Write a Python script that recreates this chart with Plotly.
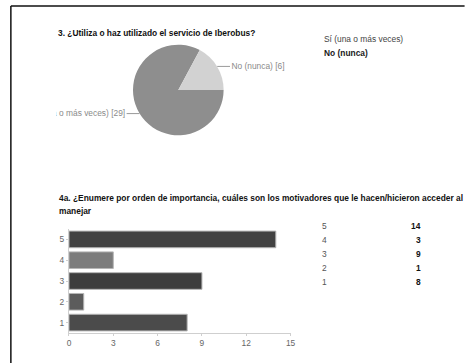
import math
import plotly.graph_objects as go

W, H = 465, 363

# pie: question 3
pie_labels = ["Sí (una o más veces)", "No (nunca)"]
pie_values = [29, 6]
pie_colors = ["#8e8e8e", "#d2d2d2"]

# bars: question 4a
bar_cats = ["5", "4", "3", "2", "1"]
bar_vals = [14, 3, 9, 1, 8]
bar_colors = ["#424242", "#7c7c7c", "#3d3d3d", "#5c5c5c", "#4b4b4b"]
x_ticks = [0, 3, 6, 9, 12, 15]

title3 = "3. ¿Utiliza o haz utilizado el servicio de Iberobus?"
title4 = ("4a. ¿Enumere por orden de importancia, cuáles son los motivadores "
          "que le hacen/hicieron acceder al servicio de Iberobus?")
title4_line2 = "manejar"

FONT = "Liberation Sans, Arial, sans-serif"
FS = 8.4


def px(x):
    return x / W


def py(y):
    return 1 - y / H


# pie box in pixels
pie_l, pie_r, pie_t, pie_b = 133, 225, 44, 136
cx, cy = (pie_l + pie_r) / 2, (pie_t + pie_b) / 2
rad = (pie_r - pie_l) / 2

fig = go.Figure()

fig.add_trace(go.Pie(
    labels=pie_labels, values=pie_values, sort=False,
    direction="clockwise", rotation=90,
    marker=dict(colors=pie_colors, line=dict(width=0)),
    textinfo="none", hoverinfo="label+value", showlegend=False,
    domain=dict(x=[px(pie_l), px(pie_r)], y=[py(pie_b), py(pie_t)]),
))

fig.add_trace(go.Bar(
    y=bar_cats, x=bar_vals, orientation="h",
    marker=dict(color=bar_colors, line=dict(color="#b5b5b5", width=1)),
    showlegend=False, xaxis="x", yaxis="y",
))

# pie leader lines + labels, on a pixel overlay axis clipped at the chart's left edge
total = sum(pie_values)
start = 0.0
for lab, val in zip(pie_labels, pie_values):
    sweep = 360 * val / total
    mid = math.radians(start - sweep / 2)
    start -= sweep
    ex, ey = cx + rad * math.cos(mid), cy - rad * math.sin(mid)
    side = 1 if math.cos(mid) > 0 else -1
    tx = ex + side * 13
    fig.add_trace(go.Scatter(
        x=[ex, tx], y=[ey, ey], mode="lines",
        line=dict(color="#9a9a9a", width=1),
        xaxis="x2", yaxis="y2", showlegend=False, hoverinfo="skip",
    ))
    fig.add_trace(go.Scatter(
        x=[tx + side * 1.5], y=[ey], mode="text",
        text=[f"{lab} [{val}]"],
        textposition="middle right" if side > 0 else "middle left",
        textfont=dict(family=FONT, size=FS, color="#8a8a8a"),
        cliponaxis=True,
        xaxis="x2", yaxis="y2", showlegend=False, hoverinfo="skip",
    ))

ann = []
ann.append(dict(x=px(55), y=py(33), xref="paper", yref="paper", text=f"<b>{title3}</b>",
                showarrow=False, xanchor="left", yanchor="middle",
                font=dict(family=FONT, size=FS, color="#111")))
ann.append(dict(x=px(56), y=py(198), xref="paper", yref="paper", text=f"<b>{title4}</b>",
                showarrow=False, xanchor="left", yanchor="middle",
                font=dict(family=FONT, size=FS, color="#111")))
ann.append(dict(x=px(56), y=py(211), xref="paper", yref="paper", text=f"<b>{title4_line2}</b>",
                showarrow=False, xanchor="left", yanchor="middle",
                font=dict(family=FONT, size=FS, color="#111")))

# pie legend (text only)
leg_colors = ["#444", "#1a1a1a"]
for i, lab in enumerate(pie_labels):
    t = lab if i == 0 else f"<b>{lab}</b>"
    ann.append(dict(x=px(325), y=py(39 + 14 * i), xref="paper", yref="paper", text=t,
                    showarrow=False, xanchor="left", yanchor="middle",
                    font=dict(family=FONT, size=FS, color=leg_colors[i])))

# bar table
for i, (c, v) in enumerate(zip(bar_cats, bar_vals)):
    yy = py(226 + 14 * i)
    ann.append(dict(x=px(327), y=yy, xref="paper", yref="paper", text=c,
                    showarrow=False, xanchor="center", yanchor="middle",
                    font=dict(family=FONT, size=FS, color="#555")))
    ann.append(dict(x=px(427), y=yy, xref="paper", yref="paper", text=f"<b>{v}</b>",
                    showarrow=False, xanchor="right", yanchor="middle",
                    font=dict(family=FONT, size=FS, color="#111")))

# scanned page frame
shapes = [
    dict(type="line", xref="paper", yref="paper", x0=px(9), x1=1.01, y0=py(6), y1=py(6),
         line=dict(color="#111", width=1.5)),
    dict(type="line", xref="paper", yref="paper", x0=px(9), x1=px(9), y0=py(6), y1=-0.01,
         line=dict(color="#111", width=1.5)),
]

fig.update_layout(
    width=W, height=H,
    margin=dict(l=0, r=0, t=0, b=0),
    paper_bgcolor="white", plot_bgcolor="rgba(0,0,0,0)",
    bargap=0.2,
    xaxis=dict(domain=[px(68), px(293)], range=[0, 15], tickvals=x_ticks,
               showgrid=False, zeroline=False, showline=True, linecolor="#cfcfcf",
               ticks="outside", ticklen=2, tickcolor="#cfcfcf",
               tickfont=dict(family=FONT, size=FS, color="#666"), fixedrange=True),
    yaxis=dict(domain=[py(333), py(229)], type="category",
               categoryorder="array", categoryarray=bar_cats[::-1],
               showgrid=False, zeroline=False, showline=True, linecolor="#cfcfcf",
               ticks="outside", ticklen=2, tickcolor="#cfcfcf",
               tickfont=dict(family=FONT, size=FS, color="#666"), fixedrange=True),
    xaxis2=dict(domain=[px(55), 1], range=[55, W], visible=False, fixedrange=True),
    yaxis2=dict(domain=[0, 1], range=[H, 0], visible=False, fixedrange=True, anchor="x2"),
    annotations=ann, shapes=shapes,
)

# page has a default 8px body margin; drop it so the figure sits at the window corner
fig.write_html(
    "out.html",
    config={"displayModeBar": False},
    post_script=("document.body.style.margin='0';"
                 "document.body.style.overflow='hidden';"
                 "document.documentElement.style.overflow='hidden';"),
)
